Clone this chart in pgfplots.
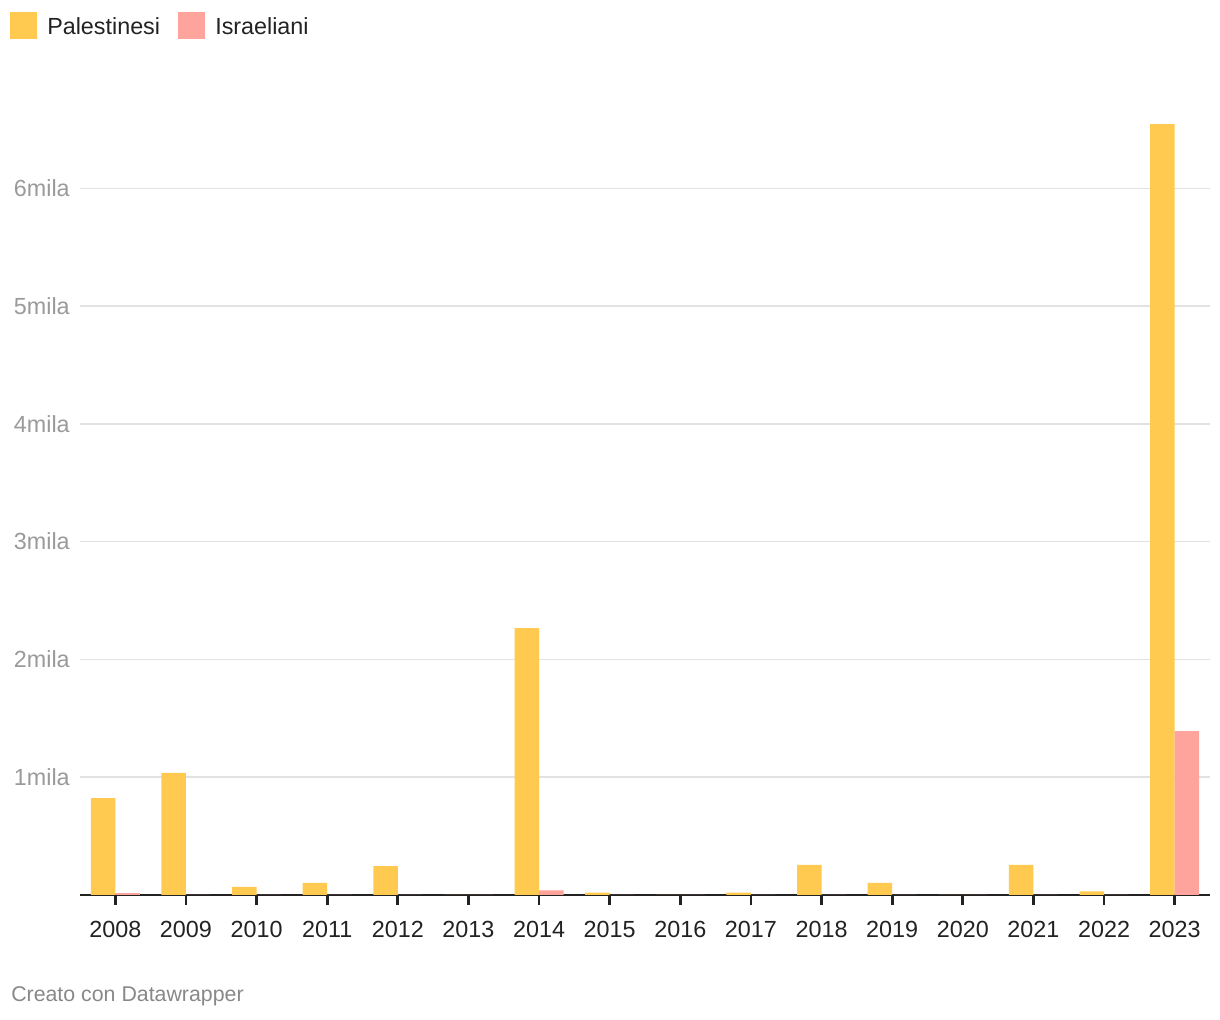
\documentclass[border=0pt]{standalone}
\usepackage{pgfplots}
\pgfplotsset{compat=1.18}
\usepackage{fontspec}
\setmainfont{Liberation Sans}
\definecolor{pal}{HTML}{FFCA4F}
\definecolor{isr}{HTML}{FFA39D}
\definecolor{gridc}{HTML}{E2E2E2}
\definecolor{ylab}{HTML}{9A9A9A}
\definecolor{xlab}{HTML}{222222}
\definecolor{foot}{HTML}{888888}
\begin{document}
\begin{tikzpicture}
\begin{scope}[x=0.75pt,y=-0.75pt,xshift=-60pt,yshift=671.25pt]
\path[use as bounding box] (0,0) rectangle (1220,1020);
\fill[pal] (10,12) rectangle (37,39);
\node[anchor=west,inner sep=0pt,text=xlab,font=\fontsize{17.5}{20}\selectfont] at (47,26) {Palestinesi};
\fill[isr] (178,12) rectangle (205,39);
\node[anchor=west,inner sep=0pt,text=xlab,font=\fontsize{17.5}{20}\selectfont] at (215,26) {Israeliani};
\node[anchor=west,inner sep=0pt,text=foot,font=\fontsize{16}{19}\selectfont] at (11,996) {Creato con Datawrapper};
\end{scope}
\begin{axis}[
  overlay,
  at={(0,0)}, anchor=south west,
  scale only axis,
  width=847.5pt, height=591.9pt,
  xmin=-0.5, xmax=15.5,
  ymin=0, ymax=6700,
  ybar=0pt, bar width=18.4pt,
  axis x line*=bottom, axis y line*=left,
  y axis line style={draw=none},
  x axis line style={line width=2pt, xlab, -},
  xtick={0,...,15},
  xticklabels={2008,2009,2010,2011,2012,2013,2014,2015,2016,2017,2018,2019,2020,2021,2022,2023},
  xtick style={line width=2pt, xlab},
  tick align=outside,
  major tick length=7.5pt,
  ytick={1000,2000,3000,4000,5000,6000},
  yticklabels={1mila,2mila,3mila,4mila,5mila,6mila},
  ytick style={draw=none},
  ymajorgrids, grid style={gridc, line width=1.1pt},
  xticklabel style={inner sep=0pt, yshift=-12pt, text=xlab, font=\fontsize{17.5}{20}\selectfont},
  yticklabel style={inner sep=0pt, anchor=east, xshift=0pt, text=ylab, font=\fontsize{17.5}{20}\selectfont},
  /pgf/number format/assume math mode=true,
  clip=false,
]
\addplot[fill=pal, draw=none] coordinates {
(0,823) (1,1036) (2,68) (3,102) (4,246) (5,0) (6,2266) (7,20) (8,0) (9,20) (10,255) (11,102) (12,0) (13,255) (14,30) (15,6545)};
\addplot[fill=isr, draw=none] coordinates {
(0,15) (1,0) (2,0) (3,0) (4,0) (5,0) (6,40) (7,0) (8,0) (9,0) (10,0) (11,0) (12,0) (13,0) (14,0) (15,1392)};
\end{axis}
\end{tikzpicture}
\end{document}
